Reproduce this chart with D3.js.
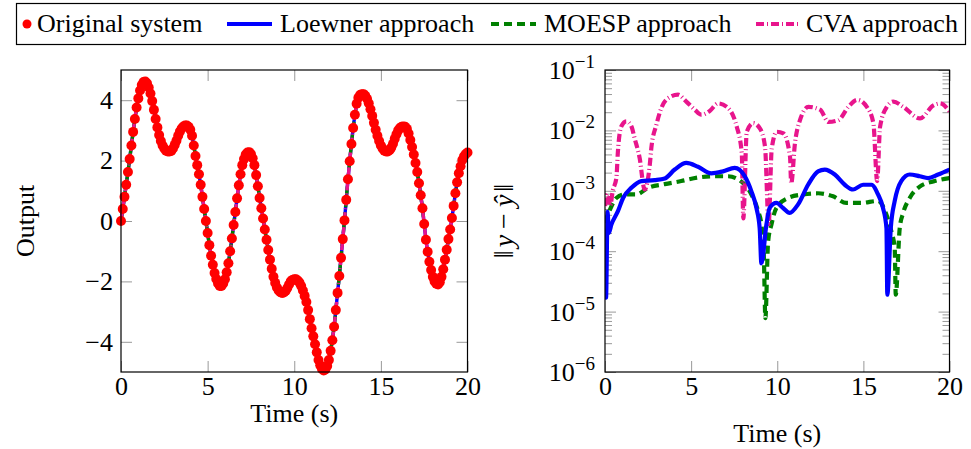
<!DOCTYPE html>
<html lang="en">
<head>
<meta charset="UTF-8">
<title>Output and approximation error</title>
<script src="https://d3js.org/d3.v7.min.js"></script>
<style>
  body { margin: 0; background: #fff; }
  svg { display: block; }
  text { font-family: "Liberation Serif", "Times New Roman", serif; fill: #000; }
</style>
</head>
<body>
<div id="chart"></div>
<script>
// sample spacing of the original system output (s)
const tStep = 0.1;
const originalOutput = [
  0.00, 0.40, 0.80, 1.20, 1.62, 2.05, 2.50, 2.95, 3.38, 3.76,
  4.06, 4.32, 4.50, 4.60, 4.62, 4.56, 4.42, 4.22, 3.97, 3.68,
  3.38, 3.10, 2.85, 2.65, 2.50, 2.40, 2.33, 2.30, 2.30, 2.32,
  2.40, 2.52, 2.66, 2.82, 2.96, 3.06, 3.13, 3.16, 3.16, 3.12,
  3.02, 2.82, 2.50, 2.15, 1.85, 1.55, 1.20, 0.80, 0.40, 0.00,
  -0.40, -0.80, -1.15, -1.45, -1.72, -1.92, -2.07, -2.15, -2.15, -2.07,
  -1.93, -1.70, -1.40, -1.00, -0.58, -0.13, 0.30, 0.75, 1.18, 1.55,
  1.85, 2.05, 2.20, 2.27, 2.28, 2.22, 2.08, 1.85, 1.52, 1.15,
  0.76, 0.42, 0.08, -0.28, -0.62, -0.96, -1.28, -1.58, -1.85, -2.05,
  -2.20, -2.30, -2.36, -2.38, -2.37, -2.32, -2.22, -2.10, -2.00, -1.95,
  -1.93, -1.93, -1.97, -2.04, -2.15, -2.30, -2.48, -2.68, -2.95, -3.25,
  -3.55, -3.82, -4.08, -4.35, -4.60, -4.78, -4.90, -4.95, -4.92, -4.80,
  -4.60, -4.30, -3.95, -3.50, -2.95, -2.38, -1.82, -1.22, -0.60, 0.02,
  0.70, 1.38, 1.98, 2.55, 3.08, 3.52, 3.88, 4.08, 4.17, 4.20,
  4.20, 4.15, 4.05, 3.90, 3.70, 3.48, 3.25, 3.02, 2.82, 2.65,
  2.50, 2.40, 2.33, 2.30, 2.30, 2.34, 2.43, 2.56, 2.72, 2.87,
  3.00, 3.08, 3.12, 3.13, 3.12, 3.05, 2.90, 2.68, 2.45, 2.20,
  1.92, 1.62, 1.25, 0.85, 0.42, -0.10, -0.62, -1.02, -1.35, -1.62,
  -1.85, -2.00, -2.08, -2.10, -2.03, -1.85, -1.60, -1.28, -0.95, -0.60,
  -0.28, 0.10, 0.50, 0.92, 1.28, 1.58, 1.81, 2.02, 2.14, 2.22,
  2.27
];

// error norms ||y - yhat||
const loewnerT = [0, 0.06, 0.15, 0.22, 0.37, 0.75, 1.05, 1.53, 2.11, 2.88, 3.47, 4.05, 4.72, 5.4, 6.17, 6.85,
  7.53, 8.11, 8.5, 8.79, 8.98, 9.08, 9.37, 9.56, 9.95, 10.34, 10.72, 11.2, 11.79, 12.37, 12.76, 13.34,
  13.92, 14.4, 14.98, 15.47, 15.85, 16.14, 16.34, 16.39, 16.59, 16.82, 17.2, 17.69, 18.27, 18.76, 19.34, 20];
const loewnerErr = [2.0e-4, 1.7e-5, 4.5e-4, 2.0e-4, 2.75e-4, 4.6e-4, 7.6e-4, 1.12e-3, 1.45e-3, 1.5e-3, 1.6e-3, 2.25e-3, 2.9e-3, 2.5e-3, 1.95e-3, 2.1e-3,
  2.4e-3, 1.75e-3, 9.8e-4, 5.2e-4, 2.4e-4, 6.3e-5, 2.75e-4, 5.2e-4, 6.3e-4, 5.2e-4, 4.3e-4, 5.9e-4, 1.26e-3, 2.1e-3, 2.25e-3, 1.86e-3,
  1.26e-3, 1.05e-3, 1.26e-3, 1.26e-3, 8.7e-4, 5.2e-4, 2.4e-4, 1.9e-5, 2.4e-4, 6.8e-4, 1.45e-3, 1.86e-3, 1.74e-3, 1.62e-3, 1.86e-3, 2.24e-3];

const moespT = [0, 0.37, 0.66, 1.14, 1.82, 2.5, 3.47, 4.43, 5.4, 6.27, 7.14, 8.01, 8.5, 8.89, 9.08, 9.22, 9.31,
  9.47, 9.66, 9.95, 10.63, 11.5, 12.37, 13.24, 14.01, 14.88, 15.85, 16.34, 16.63, 16.82, 16.88, 17.11, 17.31,
  17.69, 18.27, 19.15, 20];
const moespErr = [2.95e-4, 5.5e-4, 7.6e-4, 8.7e-4, 8.7e-4, 1.12e-3, 1.29e-3, 1.45e-3, 1.66e-3, 1.74e-3, 1.74e-3, 1.35e-3, 8.7e-4, 4.6e-4, 2.75e-4, 8.7e-5, 7.8e-6,
  1.45e-4, 2.75e-4, 5.2e-4, 7.6e-4, 8.7e-4, 9.1e-4, 8.1e-4, 6.3e-4, 6.3e-4, 6.8e-4, 4.0e-4, 2.1e-4, 1.12e-4, 1.9e-5, 2.4e-4, 4.3e-4,
  7.6e-4, 1.17e-3, 1.45e-3, 1.62e-3];

const cvaT = [0, 0.15, 0.3, 0.45, 0.66, 0.75, 0.95, 1.24, 1.53, 1.72, 2.01, 2.3, 2.6, 2.69, 2.98, 3.27, 3.76, 4.24,
  4.72, 5.21, 5.59, 6.08, 6.56, 7.07, 7.65, 7.94, 8.03, 8.23, 8.61, 9.0, 9.29, 9.5, 9.68, 9.97, 10.36, 10.74,
  10.81, 11.03, 11.32, 11.81, 12.49, 12.97, 13.55, 14.13, 14.65, 15.2, 15.58, 15.8, 15.97, 16.36, 16.74, 17.32,
  18.29, 19.07, 19.45, 20];
const cvaErr = [5.6e-4, 8.9e-4, 5.6e-4, 1.0e-3, 1.62e-3, 4.5e-3, 1.17e-2, 1.41e-2, 1.17e-2, 7.4e-3, 3.5e-3, 1.05e-3, 2.7e-3, 5.1e-3, 1.23e-2, 2.34e-2, 3.55e-2, 3.9e-2,
  3.0e-2, 2.2e-2, 1.82e-2, 2.1e-2, 2.8e-2, 2.45e-2, 1.15e-2, 4.2e-3, 3.5e-4, 9.5e-3, 1.32e-2, 1.07e-2, 5.4e-3, 2.8e-4, 5.0e-3, 9.5e-3, 8.9e-3, 3.7e-3,
  1.32e-3, 6.2e-3, 1.48e-2, 2.45e-2, 2.2e-2, 1.38e-2, 1.48e-2, 2.45e-2, 3.2e-2, 2.45e-2, 1.32e-2, 1.45e-3, 1.15e-2, 2.45e-2, 3.0e-2, 2.45e-2,
  1.58e-2, 2.6e-2, 2.8e-2, 2.05e-2];

const xTicks = [0, 5, 10, 15, 20];
const leftYTicks = [-4, -2, 0, 2, 4];
const rightYExps = [-6, -5, -4, -3, -2, -1];
const legendLabels = ['Original system', 'Loewner approach', 'MOESP approach', 'CVA approach'];

const W = 971, H = 449;
const red = '#ff0000', blue = '#0000ff', green = '#008000', pink = '#e8158c';
const fs = 26;

const svg = d3.select('#chart').append('svg').attr('width', W).attr('height', H);

const xL = d3.scaleLinear().domain([0, 20]).range([121, 467.5]);
const yL = d3.scaleLinear().domain([-5, 5]).range([372, 70]);
const xR = d3.scaleLinear().domain([0, 20]).range([605, 949.5]);
const yR = d3.scaleLog().domain([1e-6, 1e-1]).range([372, 70]);

function styleAxis(g) {
  g.select('.domain').remove();
  g.selectAll('.tick line').attr('stroke', '#999').attr('stroke-width', 1);
  g.selectAll('.tick text').attr('font-size', fs).attr('font-family', '"Liberation Serif", serif');
}

// ticks on all four sides, pointing inward
function frameTicks(x, y, yValues, yFormat) {
  const [x0, x1] = x.range();
  const [y1, y0] = y.range();
  svg.append('g').attr('transform', `translate(0,${y1})`)
    .call(d3.axisBottom(x).tickValues(xTicks).tickSize(-11).tickPadding(5).tickFormat(d3.format('d')))
    .call(styleAxis);
  svg.append('g').attr('transform', `translate(0,${y0})`)
    .call(d3.axisTop(x).tickValues(xTicks).tickSize(-11).tickFormat(''))
    .call(styleAxis);
  svg.append('g').attr('transform', `translate(${x0},0)`)
    .call(d3.axisLeft(y).tickValues(yValues).tickSize(-11).tickPadding(8).tickFormat(yFormat))
    .call(styleAxis);
  svg.append('g').attr('transform', `translate(${x1},0)`)
    .call(d3.axisRight(y).tickValues(yValues).tickSize(-11).tickFormat(''))
    .call(styleAxis);
}

function frameBox(x, y) {
  const [x0, x1] = x.range();
  const [y1, y0] = y.range();
  svg.append('rect').attr('x', x0).attr('y', y0).attr('width', x1 - x0).attr('height', y1 - y0)
    .attr('fill', 'none').attr('stroke', '#000').attr('stroke-width', 1.2);
}

// ---------- left panel: output ----------
frameTicks(xL, yL, leftYTicks, d => d < 0 ? '\u2212' + Math.abs(d) : d);
svg.selectAll('.tick text').filter(function () { return this.textContent === ''; }).remove();

const outPts = originalOutput.map((v, i) => ({ t: i * tStep, v: v }));
const lineL = d3.line().x(d => xL(d.t)).y(d => yL(d.v));

svg.append('path').datum(outPts).attr('d', lineL)
  .attr('fill', 'none').attr('stroke', blue).attr('stroke-width', 3.4);
svg.append('path').datum(outPts).attr('d', lineL)
  .attr('fill', 'none').attr('stroke', green).attr('stroke-width', 3.4).attr('stroke-dasharray', '8,5');
svg.append('path').datum(outPts).attr('d', lineL)
  .attr('fill', 'none').attr('stroke', pink).attr('stroke-width', 3.4).attr('stroke-dasharray', '8,3,1,3');

svg.append('g').selectAll('circle').data(outPts).enter().append('circle')
  .attr('cx', d => xL(d.t)).attr('cy', d => yL(d.v)).attr('r', 5).attr('fill', red);

frameBox(xL, yL);

svg.append('text').attr('transform', 'translate(34,221) rotate(-90)')
  .attr('text-anchor', 'middle').attr('font-size', fs).text('Output');
svg.append('text').attr('x', (xL.range()[0] + xL.range()[1]) / 2).attr('y', 422)
  .attr('text-anchor', 'middle').attr('font-size', fs).text('Time (s)');

// ---------- right panel: error ----------
const majors = rightYExps.map(e => Math.pow(10, e));
const minors = [];
rightYExps.slice(0, -1).forEach(e => d3.range(2, 10).forEach(m => minors.push(m * Math.pow(10, e))));

frameTicks(xR, yR, majors, () => '');
svg.append('g').attr('transform', `translate(${xR.range()[0]},0)`)
  .call(d3.axisLeft(yR).tickValues(minors).tickSize(-7).tickFormat('')).call(styleAxis);
svg.append('g').attr('transform', `translate(${xR.range()[1]},0)`)
  .call(d3.axisRight(yR).tickValues(minors).tickSize(-7).tickFormat('')).call(styleAxis);
svg.selectAll('.tick text').filter(function () { return this.textContent === ''; }).remove();

const expLabels = svg.append('g').selectAll('text').data(rightYExps).enter().append('text')
  .attr('x', xR.range()[0] - 10).attr('y', d => yR(Math.pow(10, d)) + 9)
  .attr('text-anchor', 'end').attr('font-size', fs);
expLabels.append('tspan').text('10');
expLabels.append('tspan').attr('dy', -11).attr('font-size', 19).text(d => '\u2212' + Math.abs(d));

svg.append('clipPath').attr('id', 'clipR').append('rect')
  .attr('x', xR.range()[0]).attr('y', 70).attr('width', xR.range()[1] - xR.range()[0]).attr('height', 302);

const lineR = d3.line().x(d => xR(d[0])).y(d => yR(d[1])).curve(d3.curveMonotoneX);
const errSeries = [
  { t: moespT, v: moespErr, color: green, dash: '8,5', w: 4.2 },
  { t: cvaT, v: cvaErr, color: pink, dash: '8,3,1,3', w: 4.2 },
  { t: loewnerT, v: loewnerErr, color: blue, dash: null, w: 4.2 }
];
errSeries.forEach(s => {
  svg.append('path').datum(d3.zip(s.t, s.v)).attr('d', lineR)
    .attr('clip-path', 'url(#clipR)')
    .attr('fill', 'none').attr('stroke', s.color).attr('stroke-width', s.w)
    .attr('stroke-dasharray', s.dash);
});

frameBox(xR, yR);

// ||y - yhat|| in math style
const yLab = svg.append('text').attr('transform', 'translate(513,221) rotate(-90)')
  .attr('text-anchor', 'middle').attr('font-size', 28);
yLab.append('tspan').text('\u2016');
yLab.append('tspan').attr('dx', 3).attr('font-style', 'italic').text('y');
yLab.append('tspan').attr('dx', 6).text('\u2212');
yLab.append('tspan').attr('dx', 6).attr('font-style', 'italic').text('\u0177');
yLab.append('tspan').attr('dx', 3).text('\u2016');

svg.append('text').attr('x', (xR.range()[0] + xR.range()[1]) / 2).attr('y', 442)
  .attr('text-anchor', 'middle').attr('font-size', fs).text('Time (s)');

// ---------- legend ----------
svg.append('rect').attr('x', 16.5).attr('y', 3.5).attr('width', 949).attr('height', 41)
  .attr('fill', '#fff').attr('stroke', '#000').attr('stroke-width', 1.2);

const legendX = [37, 280, 544, 806];
const sampleX = [227, 491, 756];
svg.append('circle').attr('cx', 27).attr('cy', 24).attr('r', 4.5).attr('fill', red);
[{ color: blue, dash: null }, { color: green, dash: '8,5' }, { color: pink, dash: '8,3,1,3' }].forEach((s, i) => {
  svg.append('line').attr('x1', sampleX[i]).attr('x2', sampleX[i] + 45).attr('y1', 24).attr('y2', 24)
    .attr('stroke', s.color).attr('stroke-width', 4.2).attr('stroke-dasharray', s.dash);
});
legendLabels.forEach((lab, i) => {
  svg.append('text').attr('x', legendX[i]).attr('y', 32).attr('font-size', fs).text(lab);
});
</script>
</body>
</html>
